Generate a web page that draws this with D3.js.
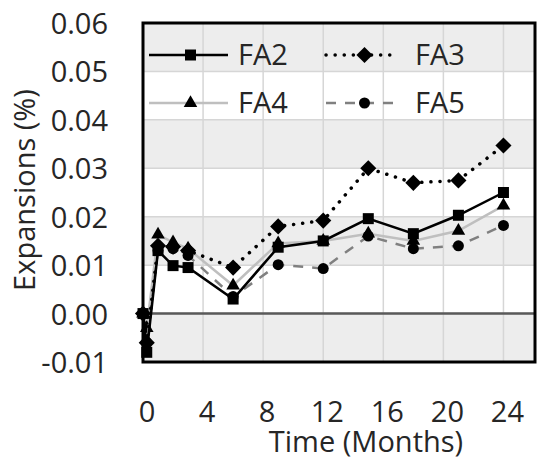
<!DOCTYPE html>
<html>
<head>
    <meta charset="utf-8">
    <script src="https://d3js.org/d3.v7.min.js"></script>
    <style>
        body { margin: 0; background: #fff; }
        svg { display: block; font-family: "Open Sans", sans-serif; }
    </style>
</head>
<body>
<svg id="chart" width="542" height="463"></svg>
<script>
    // data
    const months = [0, 0.25, 1, 2, 3, 6, 9, 12, 15, 18, 21, 24]
    const fa2 = [0, -0.008, 0.013, 0.0099, 0.0095, 0.003, 0.0137, 0.015, 0.0196, 0.0165, 0.0203, 0.025]
    const fa3 = [0, -0.006, 0.014, 0.0138, 0.013, 0.0095, 0.018, 0.0192, 0.030, 0.027, 0.0275, 0.0347]
    const fa4 = [0, -0.003, 0.0163, 0.0147, 0.0134, 0.0058, 0.0145, 0.015, 0.0165, 0.015, 0.0171, 0.0223]
    const fa5 = [0, -0.006, 0.013, 0.0134, 0.012, 0.0035, 0.0101, 0.0093, 0.016, 0.0134, 0.014, 0.0182]
    const yTicks = [-0.01, 0, 0.01, 0.02, 0.03, 0.04, 0.05, 0.06]
    const yTickLabels = ["-0.01", "0.00", "0.01", "0.02", "0.03", "0.04", "0.05", "0.06"]
    const xTicks = [0, 4, 8, 12, 16, 20, 24]

    let svg = d3.select("#chart"),
        margin = {top: 23, left: 143, bottom: 101, right: 7},
        W = +svg.attr("width"), H = +svg.attr("height")

    let x = d3.scaleLinear().domain([0, 26.1]).range([margin.left, W - margin.right])
    let y = d3.scaleLinear().domain([-0.01, 0.06]).range([H - margin.bottom, margin.top])

    // alternating bands
    svg.append("g").selectAll("rect")
        .data(yTicks.slice(0, -1))
        .enter().append("rect")
        .attr("x", x(0)).attr("width", x(26.1) - x(0))
        .attr("y", d => y(d + 0.01)).attr("height", d => y(d) - y(d + 0.01))
        .attr("fill", (d, i) => i % 2 == 0 ? "#ededed" : "#ffffff")

    // grid
    svg.append("g").selectAll("line")
        .data(yTicks)
        .enter().append("line")
        .attr("x1", x(0)).attr("x2", x(26.1))
        .attr("y1", d => y(d)).attr("y2", d => y(d))
        .attr("stroke", "#d6d6d6").attr("stroke-width", 1.5)

    svg.append("g").selectAll("line")
        .data(xTicks.slice(1))
        .enter().append("line")
        .attr("x1", d => x(d)).attr("x2", d => x(d))
        .attr("y1", y(-0.01)).attr("y2", y(0.06))
        .attr("stroke", "#d6d6d6").attr("stroke-width", 1.5)

    // zero line
    svg.append("line")
        .attr("x1", x(0)).attr("x2", x(26.1))
        .attr("y1", y(0)).attr("y2", y(0))
        .attr("stroke", "#595959").attr("stroke-width", 2.5)

    // markers
    const diamond = {
        draw(ctx, size) {
            let r = Math.sqrt(size / 2)
            ctx.moveTo(0, -r); ctx.lineTo(r, 0); ctx.lineTo(0, r); ctx.lineTo(-r, 0); ctx.closePath()
        }
    }

    let series = [
        {name: "FA4", values: fa4, color: "#bfbfbf", width: 2.5, dash: null, cap: "butt", symbol: d3.symbolTriangle, size: 80},
        {name: "FA5", values: fa5, color: "#808080", width: 2.5, dash: "10,9", cap: "butt", symbol: d3.symbolCircle, size: 95},
        {name: "FA3", values: fa3, color: "#000000", width: 3.5, dash: "0.1,9", cap: "round", symbol: diamond, size: 130},
        {name: "FA2", values: fa2, color: "#000000", width: 2.5, dash: null, cap: "butt", symbol: d3.symbolSquare, size: 121}
    ]

    let line = d3.line().x((d, i) => x(months[i])).y(d => y(d))

    series.forEach(s => {
        let g = svg.append("g")
        g.append("path")
            .datum(s.values)
            .attr("d", line)
            .attr("fill", "none")
            .attr("stroke", s.color)
            .attr("stroke-width", s.width)
            .attr("stroke-dasharray", s.dash)
            .attr("stroke-linecap", s.cap)
        g.selectAll("path.mk")
            .data(s.values)
            .enter().append("path")
            .attr("class", "mk")
            .attr("transform", (d, i) => `translate(${x(months[i])},${y(d)})`)
            .attr("d", d3.symbol().type(s.symbol).size(s.size))
            .attr("fill", "#000")
    })

    // frame
    svg.append("rect")
        .attr("x", x(0)).attr("y", y(0.06))
        .attr("width", x(26.1) - x(0)).attr("height", y(-0.01) - y(0.06))
        .attr("fill", "none").attr("stroke", "#000").attr("stroke-width", 3)

    // legend
    let legendOrder = ["FA2", "FA3", "FA4", "FA5"]
    let legend = svg.append("g")
    legendOrder.forEach((name, i) => {
        let s = series.find(d => d.name == name)
        let lx = i % 2 == 0 ? 149 : 326
        let lw = i % 2 == 0 ? 79 : 71
        let ly = i < 2 ? 55 : 103
        legend.append("line")
            .attr("x1", lx).attr("x2", lx + lw)
            .attr("y1", ly).attr("y2", ly)
            .attr("stroke", s.color).attr("stroke-width", s.width)
            .attr("stroke-dasharray", s.dash)
            .attr("stroke-linecap", s.cap)
        legend.append("path")
            .attr("transform", `translate(${lx + lw / 2 + (i % 2 == 0 ? 2 : 3)},${ly})`)
            .attr("d", d3.symbol().type(s.symbol).size(s.size))
            .attr("fill", "#000")
        legend.append("text")
            .attr("x", i % 2 == 0 ? 238 : 415).attr("y", ly + 10)
            .attr("font-size", 29).attr("fill", "#262626")
            .text(name)
    })

    // axes labels
    svg.append("g").selectAll("text")
        .data(yTicks)
        .enter().append("text")
        .attr("x", 108).attr("y", d => y(d) + 11)
        .attr("text-anchor", "end")
        .attr("font-size", 29).attr("fill", "#262626")
        .text((d, i) => yTickLabels[i])

    svg.append("g").selectAll("text")
        .data(xTicks)
        .enter().append("text")
        .attr("x", d => x(d) + 4).attr("y", 422)
        .attr("text-anchor", "middle")
        .attr("font-size", 29).attr("fill", "#262626")
        .text(d => d)

    svg.append("text")
        .attr("x", 366).attr("y", 452)
        .attr("text-anchor", "middle")
        .attr("font-size", 29).attr("fill", "#262626")
        .text("Time (Months)")

    svg.append("text")
        .attr("transform", "translate(35,190) rotate(-90)")
        .attr("text-anchor", "middle")
        .attr("font-size", 29).attr("fill", "#262626")
        .text("Expansions (%)")
</script>
</body>
</html>
